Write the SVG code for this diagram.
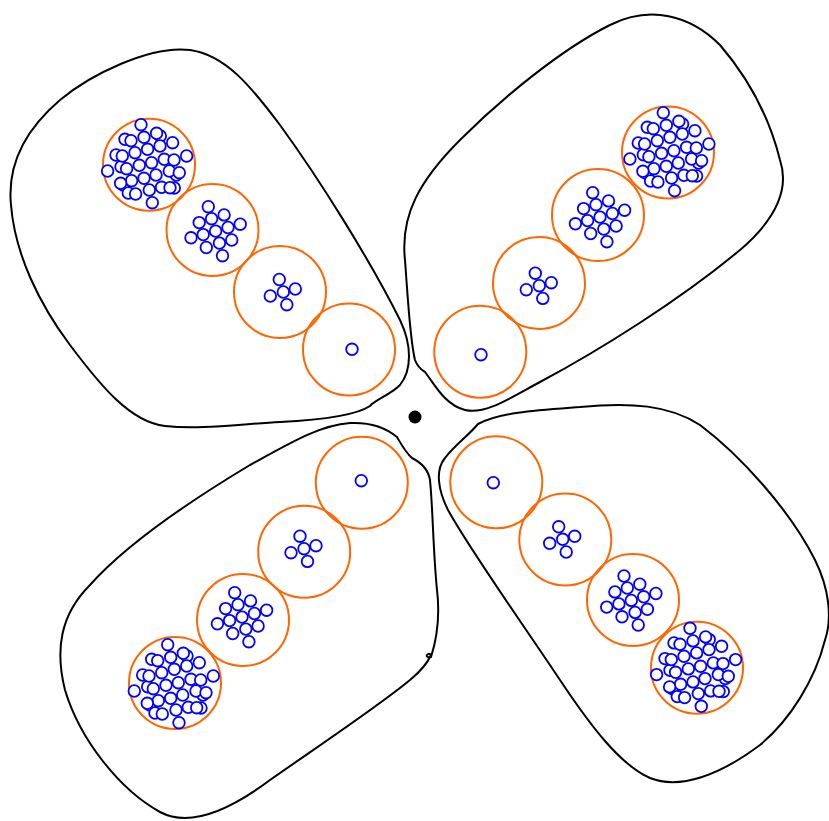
<svg xmlns="http://www.w3.org/2000/svg" width="829" height="821" viewBox="0 0 829 821">
<style>
.petal{fill:none;stroke:#000;stroke-width:2}
.grp{fill:none;stroke:#ff6600;stroke-width:2}
.leaf{fill:#fff;stroke:#0000ff;stroke-width:1.8}
</style>
<defs>
<circle id="c1" class="leaf" r="5.8"/>
<g id="c5">
<use href="#c1" x="-4" y="-12.5"/><use href="#c1" x="12" y="-3"/><use href="#c1" x="-13" y="4"/><use href="#c1" x="3.5" y="12.7"/><use href="#c1" x="0" y="0"/>
</g>
<g id="c13">
<use href="#c1" x="-7.2" y="-24.4"/><use href="#c1" x="8.6" y="-16.2"/><use href="#c1" x="-3.9" y="-12.4"/><use href="#c1" x="-16.3" y="-8.5"/><use href="#c1" x="24.7" y="-6.9"/><use href="#c1" x="12.5" y="-3.6"/><use href="#c1" x="0.1" y="0"/><use href="#c1" x="-12.3" y="3.5"/><use href="#c1" x="-24.5" y="6.7"/><use href="#c1" x="16.2" y="8.9"/><use href="#c1" x="3.9" y="12"/><use href="#c1" x="-9.2" y="16.4"/><use href="#c1" x="7" y="24.6"/>
</g>
<g id="c41">
<use href="#c1" x="-23.3" y="-23.7"/><use href="#c1" x="-32.3" y="-8"/><use href="#c1" x="-27.3" y="3.7"/><use href="#c1" x="28" y="12"/><use href="#c1" x="-25" y="22"/><use href="#c1" x="26" y="25"/><use href="#c1" x="12" y="-27"/><use href="#c1" x="-20" y="30"/>
<use href="#c1" x="-7.3" y="-38.3"/><use href="#c1" x="8.3" y="-29.7"/><use href="#c1" x="-4.3" y="-25.7"/><use href="#c1" x="-17.3" y="-22.3"/><use href="#c1" x="24.3" y="-20.3"/><use href="#c1" x="11.7" y="-17"/><use href="#c1" x="-0.7" y="-13.7"/><use href="#c1" x="-13.3" y="-10.3"/><use href="#c1" x="-26" y="-7"/><use href="#c1" x="38.3" y="-7"/><use href="#c1" x="16" y="-3.7"/><use href="#c1" x="25.7" y="-3"/><use href="#c1" x="3.3" y="-0.3"/><use href="#c1" x="-9" y="2.3"/><use href="#c1" x="-21.7" y="5.7"/><use href="#c1" x="-40.7" y="8"/><use href="#c1" x="21" y="8"/><use href="#c1" x="31" y="9.7"/><use href="#c1" x="7.7" y="12"/><use href="#c1" x="-4.3" y="15.3"/><use href="#c1" x="-16.7" y="17.7"/><use href="#c1" x="-27.7" y="20.3"/><use href="#c1" x="13.3" y="24.3"/><use href="#c1" x="21.7" y="24.7"/><use href="#c1" x="1" y="27"/><use href="#c1" x="-12.7" y="31"/><use href="#c1" x="4" y="39.7"/>
</g>
</defs>
<rect width="829" height="821" fill="#fff"/>
<g id="petal-tl">
<path class="petal" d="M370,406 C355,416 320,420 280,422 C240,424 200,430 165,426 C130,422 100,385 70,345 C40,305 15,255 11,205 C7,165 25,130 60,100 C90,75 150,45 190,50 C225,55 250,85 280,125 C320,180 370,260 400,320 C412,345 412,370 400,385 C390,395 375,400 370,406 Z"/>
</g>
<g id="petal-tr">
<path class="petal" d="M425,372 C435,385 445,405 465,410 C485,415 510,398 540,382 C600,350 680,300 740,250 C775,220 790,190 780,160 C770,120 750,80 720,45 C690,15 650,5 610,25 C560,50 500,100 460,140 C420,180 400,215 405,260 C408,300 410,340 415,360 C418,368 422,370 425,372 Z"/>
</g>
<g id="petal-bl">
<path class="petal" d="M397,437 C385,427 370,422 350,423 C320,425 290,443 250,465 C200,495 130,540 90,585 C60,615 55,650 65,690 C80,740 120,790 160,812 C190,828 230,810 270,780 C320,745 380,705 410,680 C422,670 428,662 431,655 C427,651 424,659 431,657 C438,635 440,615 437,590 C433,550 433,510 430,480 C428,468 420,462 412,458 C405,452 400,442 397,437 Z"/>
</g>
<g id="petal-br">
<path class="petal" d="M478,424 C500,412 540,410 580,407 C630,402 670,405 700,425 C740,455 790,510 815,560 C830,590 832,620 825,640 C815,680 790,720 760,745 C720,775 680,790 650,778 C620,765 590,725 560,680 C520,620 470,550 448,510 C438,490 435,470 445,458 C455,445 468,436 478,424 Z"/>
</g>
<g id="tl-1"><circle class="grp" cx="349" cy="349.5" r="46"/><use href="#c1" x="352" y="349.3"/></g>
<g id="tl-5"><circle class="grp" cx="280" cy="292" r="46"/><use href="#c5" x="283.3" y="292"/></g>
<g id="tl-13"><circle class="grp" cx="212.5" cy="230" r="46"/><use href="#c13" x="215.5" y="231.1"/></g>
<g id="tl-41"><circle class="grp" cx="149" cy="164.7" r="46"/><use href="#c41" x="148.3" y="163"/></g>
<g id="tr-1"><circle class="grp" cx="480.3" cy="351.8" r="46"/><use href="#c1" x="481" y="354.7"/></g>
<g id="tr-5"><circle class="grp" cx="539" cy="283" r="46"/><use href="#c5" x="539.3" y="285.7"/></g>
<g id="tr-13"><circle class="grp" cx="598" cy="215" r="46"/><use href="#c13" x="599.9" y="217.1"/></g>
<g id="tr-41"><circle class="grp" cx="668" cy="152.5" r="46"/><use href="#c41" x="670.6" y="151"/></g>
<g id="bl-1"><circle class="grp" cx="361.8" cy="482.8" r="46"/><use href="#c1" x="361.3" y="480.7"/></g>
<g id="bl-5"><circle class="grp" cx="304.2" cy="551.8" r="46"/><use href="#c5" x="304" y="548.7"/></g>
<g id="bl-13"><circle class="grp" cx="243" cy="620" r="46"/><use href="#c13" x="241.9" y="617.1"/></g>
<g id="bl-41"><circle class="grp" cx="175" cy="683" r="46"/><use href="#c41" x="175" y="683"/></g>
<g id="br-1"><circle class="grp" cx="496.3" cy="482.3" r="46"/><use href="#c1" x="493.3" y="482.7"/></g>
<g id="br-5"><circle class="grp" cx="565.3" cy="539.5" r="46"/><use href="#c5" x="562.7" y="539.3"/></g>
<g id="br-13"><circle class="grp" cx="633" cy="600" r="46"/><use href="#c13" x="631.2" y="600.4"/></g>
<g id="br-41"><circle class="grp" cx="697" cy="667.8" r="46"/><use href="#c41" x="697.3" y="666.6"/></g>
<g id="root"><circle cx="415" cy="417" r="6.5" fill="#000"/></g>
</svg>
